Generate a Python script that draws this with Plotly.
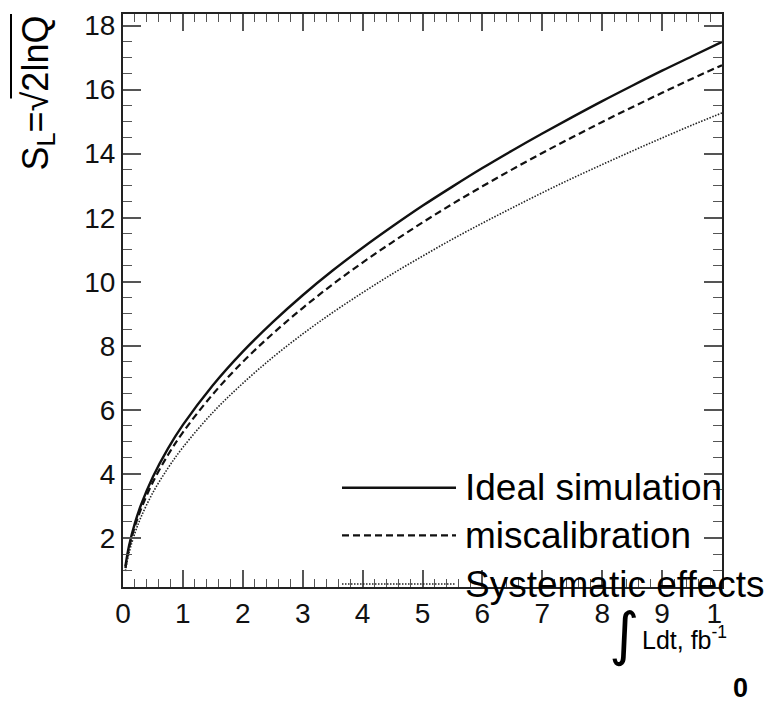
import plotly.graph_objects as go

# Integrated luminosity (fb^-1)
lumi = [0.04, 0.1, 0.2, 0.3, 0.5, 0.75, 1, 1.5, 2, 2.5, 3, 3.5, 4, 4.5, 5,
        5.5, 6, 6.5, 7, 7.5, 8, 8.5, 9, 9.5, 10]
ideal = [1.11, 1.75, 2.47, 3.03, 3.91, 4.79, 5.53, 6.77, 7.82, 8.74, 9.58, 10.35,
         11.06, 11.73, 12.37, 12.97, 13.55, 14.10, 14.63, 15.14, 15.64, 16.12,
         16.59, 17.04, 17.49]
miscal = [1.06, 1.68, 2.37, 2.90, 3.75, 4.59, 5.30, 6.49, 7.50, 8.38, 9.18, 9.92,
          10.60, 11.24, 11.85, 12.43, 12.98, 13.51, 14.02, 14.51, 14.99, 15.45,
          15.90, 16.34, 16.76]
syst = [0.97, 1.53, 2.16, 2.65, 3.42, 4.18, 4.83, 5.92, 6.83, 7.64, 8.37, 9.04,
        9.66, 10.25, 10.80, 11.33, 11.83, 12.31, 12.78, 13.23, 13.66, 14.08,
        14.49, 14.89, 15.27]
series_names = ["Ideal simulation", "miscalibration", "Systematic effects"]
x_tickvals = [0, 1, 2, 3, 4, 5, 6, 7, 8, 9, 10]
x_ticktext = ["0", "1", "2", "3", "4", "5", "6", "7", "8", "9", "1&nbsp;&nbsp;"]
y_tickvals = [2, 4, 6, 8, 10, 12, 14, 16, 18]

FONT = "Liberation Sans, Arial, Helvetica, sans-serif"
styles = [dict(color="#111", width=2.4, dash="solid"),
          dict(color="#111", width=2.2, dash="7px,4px"),
          dict(color="#222", width=1.6, dash="1.5px,1.5px")]

fig = go.Figure()
for name, ys, st in zip(series_names, [ideal, miscal, syst], styles):
    fig.add_trace(go.Scatter(x=lumi, y=ys, mode="lines", name=name, line=st,
                             line_shape="spline", showlegend=False))

L, R, T, B = 123, 47, 10, 116
W, H = 769, 703
pw, ph = W - L - R, H - T - B

def px(xp):
    return (xp - L) / pw

def py(yp):
    return 1 - (yp - T) / ph

axis_common = dict(showline=True, linecolor="#222", linewidth=2, mirror="ticks",
                   ticks="inside", tickcolor="#555", tickwidth=1.5, showgrid=False,
                   zeroline=False, tickfont=dict(family=FONT, size=28, color="#111"))

fig.update_xaxes(range=[0, 10], tickvals=x_tickvals, ticktext=x_ticktext, ticklen=17,
                 minor=dict(dtick=0.2, tick0=0, ticklen=8, ticks="inside",
                            tickcolor="#555", tickwidth=1.2),
                 **axis_common)
fig.update_yaxes(range=[0.47, 18.36], tickvals=y_tickvals, ticklen=18,
                 minor=dict(dtick=0.5, tick0=0, ticklen=9, ticks="inside",
                            tickcolor="#555", tickwidth=1.2),
                 **axis_common)

shapes = []
annotations = []
# legend samples and labels
leg_y = [487, 535, 584]
for name, st, yy in zip(series_names, styles, leg_y):
    shapes.append(dict(type="line", xref="paper", yref="paper", x0=px(342), x1=px(456),
                       y0=py(yy), y1=py(yy), line=st))
    annotations.append(dict(text=name, xref="paper", yref="paper", x=px(463), y=py(yy),
                            xanchor="left", yanchor="middle", showarrow=False,
                            font=dict(family=FONT, size=37, color="#000")))

# y-axis title
annotations.append(dict(text="S<sub>L</sub>=√2lnQ", xref="paper", yref="paper",
                        x=px(38), y=py(90), xanchor="center", yanchor="middle",
                        textangle=-90, showarrow=False,
                        font=dict(family=FONT, size=36, color="#000")))
shapes.append(dict(type="line", xref="paper", yref="paper", x0=px(11), x1=px(11),
                   y0=py(10), y1=py(95), line=dict(color="#000", width=2)))
# x-axis title
annotations.append(dict(text="∫", xref="paper", yref="paper", x=px(624), y=py(634),
                        xanchor="center", yanchor="middle", showarrow=False,
                        font=dict(family="DejaVu Sans", size=58, color="#000")))
annotations.append(dict(text="Ldt, fb<sup>-1</sup>", xref="paper", yref="paper",
                        x=px(640), y=py(638), xanchor="left", yanchor="middle",
                        showarrow=False, font=dict(family=FONT, size=25, color="#000")))
annotations.append(dict(text="<b>0</b>", xref="paper", yref="paper", x=px(740), y=py(689),
                        xanchor="center", yanchor="middle", showarrow=False,
                        font=dict(family=FONT, size=27, color="#000")))

fig.update_layout(width=W, height=H, margin=dict(l=L, r=R, t=T, b=B),
                  plot_bgcolor="white", paper_bgcolor="white",
                  shapes=shapes, annotations=annotations,
                  font=dict(family=FONT, color="#000"))

fig.write_html("out.html")
